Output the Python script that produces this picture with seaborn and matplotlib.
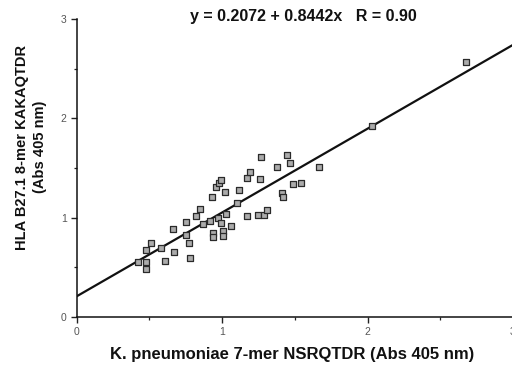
import numpy as np
import pandas as pd
import matplotlib
matplotlib.use("Agg")
import matplotlib.pyplot as plt
import seaborn as sns
from matplotlib.ticker import MultipleLocator

# ---- data ----
x_vals = [0.42, 0.48, 0.48, 0.48, 0.51, 0.58, 0.61, 0.67, 0.66, 0.75,
          0.77, 0.78, 0.75, 0.82, 0.85, 0.87, 0.92, 0.97, 0.99, 0.94,
          0.94, 1.01, 1.01, 1.03, 1.06, 0.93, 0.96, 0.98, 0.99, 1.02,
          1.12, 1.10, 1.17, 1.19, 1.27, 1.26, 1.17, 1.25, 1.29, 1.31,
          1.38, 1.45, 1.47, 1.49, 1.54, 1.41, 1.42, 1.67, 2.03, 2.68]
y_vals = [0.55, 0.55, 0.48, 0.67, 0.74, 0.69, 0.56, 0.65, 0.89, 0.83,
          0.74, 0.59, 0.96, 1.02, 1.09, 0.94, 0.97, 1.00, 0.95, 0.85,
          0.81, 0.87, 0.82, 1.04, 0.92, 1.21, 1.31, 1.35, 1.38, 1.26,
          1.28, 1.15, 1.40, 1.46, 1.61, 1.39, 1.02, 1.03, 1.03, 1.08,
          1.51, 1.63, 1.55, 1.34, 1.35, 1.25, 1.21, 1.51, 1.92, 2.57]
intercept = 0.2072
slope = 0.8442
r_value = 0.90
fit_x = [0.0, 3.0]
x_ticks = [0, 1, 2, 3]
y_ticks = [0, 1, 2, 3]

title_text = f"y = {intercept:.4f} + {slope:.4f}x   R = {r_value:.2f}"
x_label = "K. pneumoniae 7-mer NSRQTDR (Abs 405 nm)"
y_label = "HLA B27.1 8-mer KAKAQTDR\n(Abs 405 nm)"

df = pd.DataFrame({"x": x_vals, "y": y_vals})
fit_df = pd.DataFrame({"x": fit_x, "y": [intercept + slope * v for v in fit_x]})

sns.set_theme(style="white")
plt.rcParams["font.family"] = ["Liberation Sans", "DejaVu Sans"]

fig = plt.figure(figsize=(5.12, 3.71), dpi=100)
ax = fig.add_axes([76.5 / 512, 54 / 371, 436.5 / 512, 298 / 371])

sns.lineplot(data=fit_df, x="x", y="y", ax=ax, color="#111111", linewidth=1.6, zorder=2)
sns.scatterplot(data=df, x="x", y="y", ax=ax, marker="s", s=24,
                facecolor="#ababab", edgecolor="#2a2a2a", linewidth=0.9, zorder=3)

ax.set_xlim(0, 3)
ax.set_ylim(0, 3)
ax.set_xticks(x_ticks)
ax.set_yticks(y_ticks)
ax.xaxis.set_minor_locator(MultipleLocator(0.5))
ax.yaxis.set_minor_locator(MultipleLocator(0.5))
ax.tick_params(which="major", direction="out", length=4, width=1.0, colors="#222222",
               labelsize=7.5, labelcolor="#555555", bottom=True, left=True, pad=3)
ax.tick_params(which="minor", direction="out", length=2.5, width=0.9, colors="#222222",
               bottom=True, left=True)
for s in ["top", "right"]:
    ax.spines[s].set_visible(False)
for s in ["left", "bottom"]:
    ax.spines[s].set_color("#111111")
    ax.spines[s].set_linewidth(1.1)
    ax.spines[s].set_clip_on(False)

ax.set_xlabel("")
ax.set_ylabel("")

fig.text(303 / 512, 1 - 17 / 371, title_text, ha="center", va="center",
         fontsize=11.5, fontweight="bold", color="#111111")
fig.text(292 / 512, 1 - 355 / 371, x_label, ha="center", va="center",
         fontsize=12, fontweight="bold", color="#111111")
fig.text(31 / 512, 1 - 147 / 371, y_label, ha="center", va="center", rotation=90,
         fontsize=10.5, fontweight="bold", color="#111111", linespacing=1.3,
         multialignment="center")

fig.savefig("out.png", dpi=100)
